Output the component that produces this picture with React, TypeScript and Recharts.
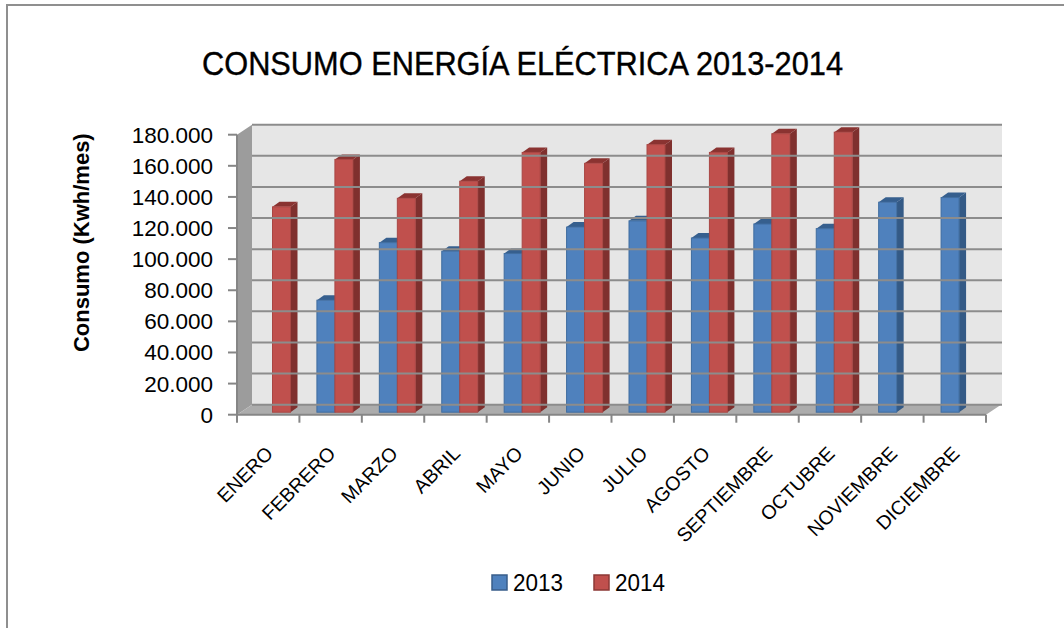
import { Bar, BarChart, Legend, ReferenceArea, ReferenceLine, XAxis, YAxis } from "recharts";

const months = ["ENERO", "FEBRERO", "MARZO", "ABRIL", "MAYO", "JUNIO", "JULIO", "AGOSTO", "SEPTIEMBRE", "OCTUBRE", "NOVIEMBRE", "DICIEMBRE"];
const values2013 = [null, 72000, 109000, 103500, 102000, 119000, 123000, 112000, 121000, 118000, 135000, 138000];
const values2014 = [132000, 162500, 137500, 148500, 167000, 160000, 172000, 167000, 179000, 180000, null, null];
const yTicks = [0, 20000, 40000, 60000, 80000, 100000, 120000, 140000, 160000, 180000];

const data = months.map((mes, i) => ({ mes, y2013: values2013[i], y2014: values2014[i] }));

const FONT = "'Liberation Sans', Arial, sans-serif";
const AXIS = "#868686";
const WALL_DX = 15;
const WALL_DY = 10;

const fmtMiles = (v: number) => String(v).replace(/\B(?=(\d{3})+$)/g, ".");

function Walls({ x, y, width, height }: any) {
  const bottom = y + height;
  return (
    <g>
      <rect x={x + WALL_DX} y={y - WALL_DY} width={width + 1} height={height} fill="#e6e6e6" />
      <polygon
        points={`${x},${y} ${x + WALL_DX},${y - WALL_DY} ${x + WALL_DX},${bottom - WALL_DY} ${x},${bottom}`}
        fill="#9c9c9c"
      />
      <polygon
        points={`${x},${bottom} ${x + WALL_DX},${bottom - WALL_DY} ${x + width + WALL_DX},${bottom - WALL_DY} ${x + width},${bottom}`}
        fill="#acacac"
      />
    </g>
  );
}

// gridlines sit on the back wall, not on the front plane
function GridLine({ x1, x2, y1 }: any) {
  return <line x1={x1 + WALL_DX} x2={x2 + WALL_DX + 1} y1={y1 - WALL_DY} y2={y1 - WALL_DY} stroke="#8c8c8c" strokeWidth={2} />;
}

const bar3d = (front: string, edge: string, side: string, top: string) =>
  function Bar3d({ x, y, width, height }: any) {
    if (!height) return null;
    const fx = x + 4.5;
    const fy = y - 2.5;
    const dx = 7;
    const dy = 5;
    return (
      <g>
        <polygon
          points={`${fx + width},${fy} ${fx + width + dx},${fy - dy} ${fx + width + dx},${fy + height - dy} ${fx + width},${fy + height}`}
          fill={side}
        />
        <polygon
          points={`${fx},${fy} ${fx + dx},${fy - dy} ${fx + width + dx},${fy - dy} ${fx + width},${fy}`}
          fill={top}
        />
        <rect x={fx} y={fy} width={width} height={height} fill={front} stroke={edge} strokeWidth={1} />
      </g>
    );
  };

function MonthTick({ x, y, payload, index, width }: any) {
  const band = width / months.length;
  return (
    <g>
      <line x1={x - band / 2} x2={x - band / 2} y1={y - 8} y2={y} stroke={AXIS} strokeWidth={2} />
      {index === months.length - 1 && (
        <line x1={x + band / 2} x2={x + band / 2} y1={y - 8} y2={y} stroke={AXIS} strokeWidth={2} />
      )}
      <text
        x={x + 6}
        y={y + 32}
        transform={`rotate(-45 ${x + 6} ${y + 32})`}
        textAnchor="end"
        fontFamily={FONT}
        fontSize={19.5}
        fill="#000"
      >
        {payload.value}
      </text>
    </g>
  );
}

function AxisTitle({ viewBox }: any) {
  const cx = viewBox.x + 89;
  const cy = viewBox.y + viewBox.height / 2 - 32;
  return (
    <text
      x={cx}
      y={cy}
      transform={`rotate(-90 ${cx} ${cy})`}
      textAnchor="middle"
      fontFamily={FONT}
      fontSize={22}
      fontWeight={700}
      fill="#000"
    >
      Consumo (Kwh/mes)
    </text>
  );
}

function LegendBox() {
  const items = [
    { name: "2013", fill: "#4f81bd", edge: "#385d8a", left: 492 },
    { name: "2014", fill: "#c0504d", edge: "#8c3836", left: 594 },
  ];
  return (
    <svg width={1064} height={40} style={{ display: "block" }}>
      {items.map((it) => (
        <g key={it.name}>
          <rect x={it.left} y={7} width={15} height={15} fill={it.fill} stroke={it.edge} strokeWidth={1.5} />
          <text x={it.left + 21} y={23} fontFamily={FONT} fontSize={24} textLength={50} lengthAdjust="spacingAndGlyphs" fill="#000">
            {it.name}
          </text>
        </g>
      ))}
    </svg>
  );
}

export default function App() {
  return (
    <div style={{ position: "absolute", left: 0, top: 0, width: 1064, height: 628, background: "#fff", overflow: "hidden" }}>
      <div style={{ position: "absolute", left: 6, top: 4, right: 0, bottom: 0, borderLeft: "2px solid #8f8f8f", borderTop: "2px solid #8f8f8f" }} />
      <BarChart
        width={1064}
        height={628}
        data={data}
        margin={{ top: 134.7, right: 78, bottom: 94.3, left: 0 }}
        barSize={18}
        barGap={0}
        style={{ position: "absolute", left: 0, top: 0 }}
      >
        <ReferenceArea y1={0} y2={180000} ifOverflow="visible" shape={<Walls />} />
        {yTicks.map((t) => (
          <ReferenceLine key={t} y={t} ifOverflow="visible" shape={<GridLine />} />
        ))}
        <text x={202} y={75} fontFamily={FONT} fontSize={34} textLength={641} lengthAdjust="spacingAndGlyphs" stroke="#000" strokeWidth={0.4} fill="#000">
          CONSUMO ENERGÍA ELÉCTRICA 2013-2014
        </text>
        <XAxis
          dataKey="mes"
          interval={0}
          height={79}
          tickLine={false}
          tick={<MonthTick />}
          axisLine={{ stroke: AXIS, strokeWidth: 2 }}
        />
        <YAxis
          width={237}
          domain={[0, 180000]}
          ticks={yTicks}
          interval={0}
          tickFormatter={fmtMiles}
          tickSize={9}
          tickMargin={15}
          tick={{ fontSize: 22.5, fontFamily: FONT, fill: "#000" }}
          tickLine={{ stroke: AXIS, strokeWidth: 2 }}
          axisLine={{ stroke: AXIS, strokeWidth: 2 }}
          label={<AxisTitle />}
        />
        <Bar dataKey="y2013" name="2013" fill="#4f81bd" isAnimationActive={false} shape={bar3d("#4f81bd", "#3f6c9f", "#345a86", "#365f8e")} />
        <Bar dataKey="y2014" name="2014" fill="#c0504d" isAnimationActive={false} shape={bar3d("#c0504d", "#a94643", "#7f302e", "#8a3331")} />
        <Legend content={<LegendBox />} wrapperStyle={{ position: "absolute", left: 0, top: 568, width: 1064 }} />
      </BarChart>
    </div>
  );
}
